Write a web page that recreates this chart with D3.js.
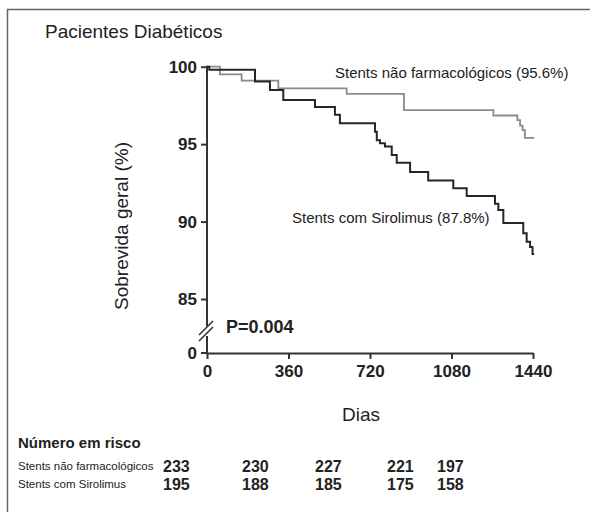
<!DOCTYPE html>
<html>
<head>
<meta charset="utf-8">
<script src="https://cdn.jsdelivr.net/npm/d3@7"></script>
<style>
  body { margin: 0; background: #fff; }
  text { font-family: "Liberation Sans", Arial, sans-serif; fill: #222; }
</style>
</head>
<body>
<div id="chart"></div>
<script>
// Kaplan-Meier curves
const bmsTime = [0, 57, 153, 315, 617, 870, 1265, 1371, 1383, 1394, 1404, 1445];
const bmsSurv = [100, 99.5, 99.1, 98.6, 98.25, 97.2, 96.85, 96.55, 96.2, 95.9, 95.4, 95.4];

const sesTime = [0, 10, 212, 278, 337, 477, 565, 587, 742, 750, 764, 786, 816, 838, 897,
  977, 1088, 1147, 1272, 1287, 1309, 1397, 1412, 1427, 1438, 1445];
const sesSurv = [100, 99.8, 99.05, 98.5, 97.85, 97.4, 96.9, 96.35, 95.8, 95.25, 95.05, 94.85, 94.3, 93.8, 93.2,
  92.65, 92.15, 91.65, 91.15, 90.75, 89.9, 89.25, 88.7, 88.35, 87.9, 87.9];

const xTicks = [0, 360, 720, 1080, 1440];
const yTicks = [85, 90, 95, 100];

const riskLabels = ["Stents não farmacológicos", "Stents com Sirolimus"];
const riskBms = [233, 230, 227, 221, 197];
const riskSes = [195, 188, 185, 175, 158];

const width = 590, height = 512;
const svg = d3.select("#chart").append("svg")
  .attr("width", width)
  .attr("height", height);

// cropped frame (top + left)
svg.append("path")
  .attr("d", "M7.5,512V9.5H590")
  .attr("fill", "none")
  .attr("stroke", "#666")
  .attr("stroke-width", 1.5);

const x = d3.scaleLinear().domain([0, 1440]).range([207, 533]);
const y = d3.scaleLinear().domain([85, 100]).range([299, 66.7]);
const yZero = 353;

const axisColor = "#333";

// y axis
const yAxis = svg.append("g")
  .attr("transform", `translate(${x(0)},0)`)
  .call(d3.axisLeft(y).tickValues(yTicks).tickSize(6).tickPadding(4));
yAxis.select(".domain").remove();
yAxis.selectAll("line").attr("stroke", axisColor).attr("stroke-width", 2);
yAxis.selectAll("text")
  .attr("font-size", 17).attr("font-weight", "bold")
  .style("font-family", '"Liberation Sans", Arial, sans-serif').attr("fill", "#222");

// axis line with break
svg.append("line")
  .attr("x1", x(0)).attr("x2", x(0))
  .attr("y1", y(100) - 1).attr("y2", 326)
  .attr("stroke", axisColor).attr("stroke-width", 2);
svg.append("line")
  .attr("x1", x(0)).attr("x2", x(0))
  .attr("y1", 336).attr("y2", yZero)
  .attr("stroke", axisColor).attr("stroke-width", 2);
[0, 6].forEach(d => {
  svg.append("line")
    .attr("x1", x(0) - 8).attr("y1", 335 + d)
    .attr("x2", x(0) + 6).attr("y2", 321 + d)
    .attr("stroke", axisColor).attr("stroke-width", 1.6);
});

// zero tick
svg.append("line")
  .attr("x1", x(0) - 6).attr("x2", x(0))
  .attr("y1", yZero).attr("y2", yZero)
  .attr("stroke", axisColor).attr("stroke-width", 2);
svg.append("text")
  .attr("x", x(0) - 10).attr("y", yZero)
  .attr("dy", "0.35em")
  .attr("text-anchor", "end")
  .attr("font-size", 17).attr("font-weight", "bold")
  .text("0");

// x axis
const xAxis = svg.append("g")
  .attr("transform", `translate(0,${yZero})`)
  .call(d3.axisBottom(x).tickValues(xTicks).tickFormat(d3.format("d"))
    .tickSize(6).tickSizeOuter(0).tickPadding(6));
xAxis.select(".domain").attr("stroke", axisColor).attr("stroke-width", 2);
xAxis.selectAll("line").attr("stroke", axisColor).attr("stroke-width", 2);
xAxis.selectAll("text")
  .attr("font-size", 17).attr("font-weight", "bold")
  .style("font-family", '"Liberation Sans", Arial, sans-serif').attr("fill", "#222");

// curves
const line = d3.line()
  .x(d => x(d[0]))
  .y(d => y(d[1]))
  .curve(d3.curveStepAfter);

svg.append("path")
  .datum(d3.zip(bmsTime, bmsSurv))
  .attr("d", line)
  .attr("fill", "none")
  .attr("stroke", "#8a8a8a")
  .attr("stroke-width", 1.8);

svg.append("path")
  .datum(d3.zip(sesTime, sesSurv))
  .attr("d", line)
  .attr("fill", "none")
  .attr("stroke", "#262626")
  .attr("stroke-width", 2);

// texts
svg.append("text")
  .attr("x", 45).attr("y", 38)
  .attr("font-size", 19)
  .text("Pacientes Diabéticos");

svg.append("text")
  .attr("transform", "translate(128,226) rotate(-90)")
  .attr("text-anchor", "middle")
  .attr("font-size", 19)
  .text("Sobrevida geral (%)");

svg.append("text")
  .attr("x", 361).attr("y", 421)
  .attr("text-anchor", "middle")
  .attr("font-size", 19)
  .text("Dias");

svg.append("text")
  .attr("x", 335).attr("y", 78)
  .attr("font-size", 15)
  .text("Stents não farmacológicos (95.6%)");

svg.append("text")
  .attr("x", 292).attr("y", 223)
  .attr("font-size", 15)
  .text("Stents com Sirolimus (87.8%)");

svg.append("text")
  .attr("x", 226).attr("y", 333)
  .attr("font-size", 18).attr("font-weight", "bold")
  .text("P=0.004");

// risk table
svg.append("text")
  .attr("x", 18).attr("y", 448)
  .attr("font-size", 15).attr("font-weight", "bold")
  .text("Número em risco");

const col = d3.scaleOrdinal().domain(xTicks).range([163, 242, 315, 387, 437]);
const rowY = d3.scalePoint().domain(riskLabels).range([472, 490]);

[riskBms, riskSes].forEach((vals, i) => {
  const label = riskLabels[i];
  svg.append("text")
    .attr("x", 18).attr("y", rowY(label) - 2)
    .attr("font-size", 11.5)
    .text(label);
  svg.selectAll(null)
    .data(d3.zip(xTicks, vals))
    .join("text")
    .attr("x", d => col(d[0]))
    .attr("y", rowY(label))
    .attr("font-size", 16).attr("font-weight", "bold")
    .text(d => d[1]);
});
</script>
</body>
</html>
